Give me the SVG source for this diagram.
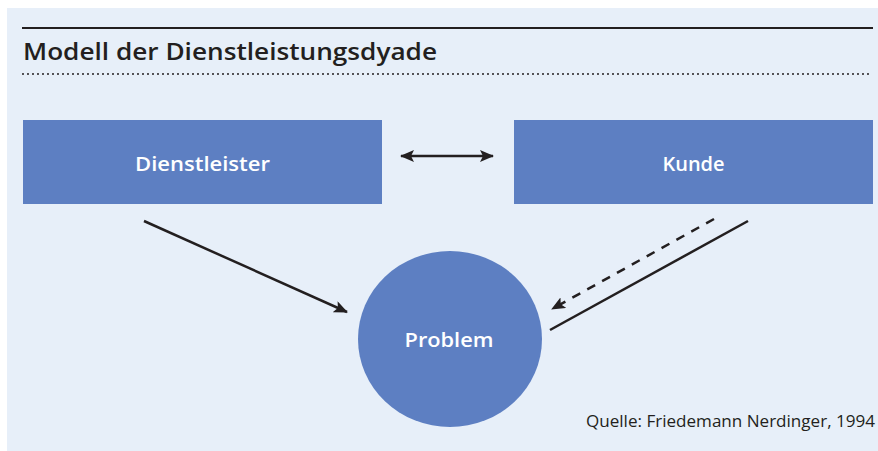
<svg xmlns="http://www.w3.org/2000/svg" width="878" height="451" viewBox="0 0 878 451">
<defs>
<style>
.node{fill:#5d7fc2}
.lbl{font-family:"Open Sans","Liberation Sans",sans-serif;font-weight:600;fill:#ffffff;text-anchor:middle}
.ln{stroke:#231f20;stroke-width:2.5;fill:none}
</style>
<marker id="ah" viewBox="0 0 14 12" refX="13" refY="6" markerWidth="14" markerHeight="12" markerUnits="userSpaceOnUse" orient="auto-start-reverse">
<path d="M0,0 L14,6 L0,12 L3,6 Z" fill="#231f20"/>
</marker>
</defs>
<rect x="7" y="8" width="871" height="443" fill="#e7eff9"/>
<line x1="22" y1="28" x2="873" y2="28" stroke="#231f20" stroke-width="2"/>
<text x="23" y="60" font-family="'Open Sans','Liberation Sans',sans-serif" font-weight="600" font-size="23" fill="#231f20" textLength="414" lengthAdjust="spacingAndGlyphs">Modell der Dienstleistungsdyade</text>
<line x1="23" y1="74" x2="873" y2="74" stroke="#231f20" stroke-width="2" stroke-dasharray="0 5" stroke-linecap="round"/>
<g id="dienstleister">
<rect class="node" x="23" y="120" width="359" height="84"/>
<text class="lbl" x="202.5" y="171" font-size="20" textLength="135" lengthAdjust="spacingAndGlyphs">Dienstleister</text>
</g>
<g id="kunde">
<rect class="node" x="514" y="120" width="359" height="84"/>
<text class="lbl" x="693.5" y="171" font-size="20">Kunde</text>
</g>
<g id="problem">
<ellipse class="node" cx="450" cy="339" rx="92" ry="88"/>
<text class="lbl" x="449" y="347" font-size="20" textLength="89" lengthAdjust="spacingAndGlyphs">Problem</text>
</g>
<g id="connectors">
<line class="ln" x1="401" y1="156" x2="493" y2="156" marker-start="url(#ah)" marker-end="url(#ah)"/>
<line class="ln" x1="144" y1="221" x2="347" y2="312" marker-end="url(#ah)"/>
<line class="ln" x1="714" y1="219" x2="552" y2="309" stroke-dasharray="9 8" marker-end="url(#ah)"/>
<line class="ln" x1="748" y1="221" x2="550" y2="330"/>
</g>
<text x="586" y="427" font-family="'Open Sans','Liberation Sans',sans-serif" font-size="16" fill="#231f20" textLength="289" lengthAdjust="spacingAndGlyphs">Quelle: Friedemann Nerdinger, 1994</text>
</svg>
